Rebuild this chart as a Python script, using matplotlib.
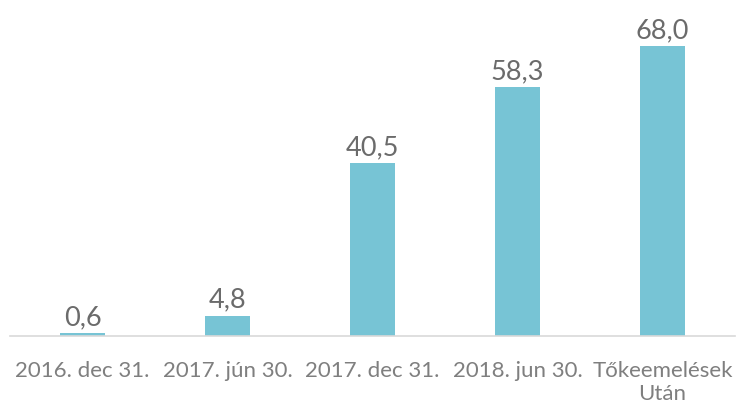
import matplotlib
matplotlib.use("Agg")
import matplotlib.pyplot as plt

categories = ["2016. dec 31.", "2017. jún 30.", "2017. dec 31.", "2018. jun 30.", "Tőkeemelések\nUtán"]
values = [0.6, 4.8, 40.5, 58.3, 68.0]
value_labels = ["0,6", "4,8", "40,5", "58,3", "68,0"]

plt.rcParams['font.family'] = ['Lato', 'DejaVu Sans']

fig = plt.figure(figsize=(7.37, 4.06), dpi=100)
ax = fig.add_axes([10/737, 69/406, 725/737, 337/406])

x = list(range(len(categories)))
bars = ax.bar(x, values, width=0.31, color="#77c4d5", zorder=2)
ax.set_xlim(-0.5, len(categories) - 0.5)
ax.set_ylim(0, 79.0)

for xi, v, lab in zip(x, values, value_labels):
    ax.text(xi, v + 0.9, lab, ha="center", va="bottom", fontsize=19.5, color="#6b6b6b")

ax.set_xticks(x)
ax.set_xticklabels(categories, fontsize=16, color="#7f7f7f", linespacing=1.22)
ax.tick_params(axis="x", length=0, pad=17)
ax.set_yticks([])
for s in ["top", "right", "left"]:
    ax.spines[s].set_visible(False)
ax.spines["bottom"].set_color("#d9d9d9")
ax.spines["bottom"].set_linewidth(1.2)

fig.savefig("out.png", dpi=100)
